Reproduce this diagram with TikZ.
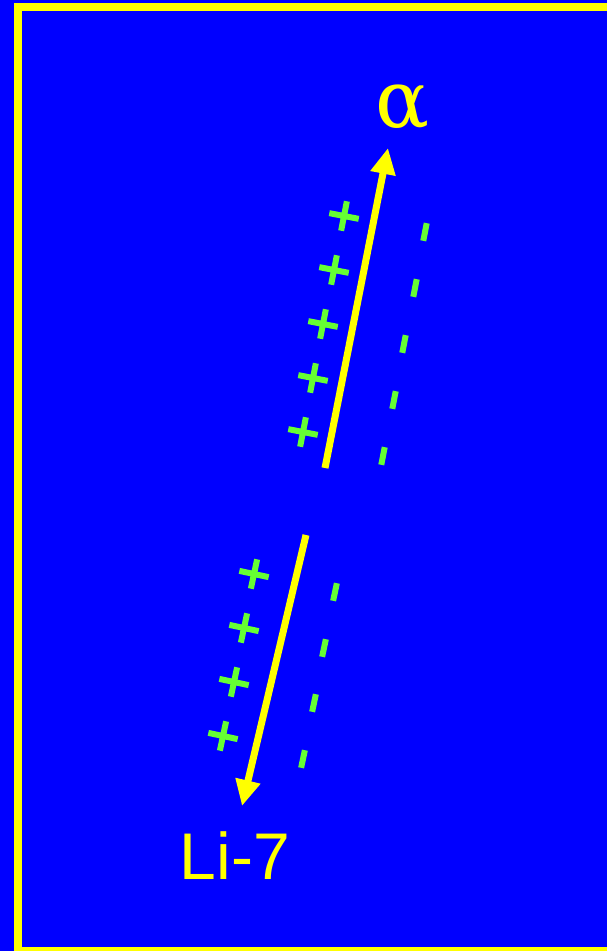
\documentclass[tikz,border=0pt]{standalone}
\usepackage{fontspec}
\usetikzlibrary{arrows.meta}
\newfontfamily\arialfont{Liberation Sans}
\newfontfamily\greekfont{DejaVu Serif}
\definecolor{bgblue}{RGB}{0,0,255}
\definecolor{ylw}{RGB}{255,255,0}
\definecolor{grn}{RGB}{102,255,51}
\tikzset{
  chargeline/.style={draw=grn,line width=6pt},
  plussign/.pic={\draw[chargeline] (-15,0)--(15,0) (0,-15)--(0,15);},
  minussign/.pic={\draw[chargeline] (0,-9)--(0,9);},
  trackarrow/.style={draw=ylw,line width=7pt,-{Triangle[length=26pt,width=24pt]}},
  label/.style={text=ylw,inner sep=0pt,anchor=base}
}
\begin{document}
\begin{tikzpicture}[x=1pt,y=-1pt]
\useasboundingbox (0,0) rectangle (607,951);
\clip (0,0) rectangle (607,951);
\fill[bgblue] (0,0) rectangle (607,951);
\draw[ylw,line width=8pt] (18,7) rectangle (610.5,950.5);
% upper track
\coordinate (a0) at (325,468);
\coordinate (a1) at (388,148);
\draw[trackarrow] (a0) -- (a1);
\node[label,font=\greekfont\fontsize{80}{80}\selectfont] (alpha) at (403,127) {α};
\foreach \x/\y in {344/216,334/270,323/324,313/378,303/432}
  \pic[rotate=-11] at (\x,\y) {plussign};
\foreach \x/\y in {425/232,415/288,404/344,394/400,383/456}
  \pic[rotate=-11] at (\x,\y) {minussign};
% lower track
\coordinate (b0) at (306,535);
\coordinate (b1) at (242,806);
\draw[trackarrow] (b0) -- (b1);
\node[label,font=\arialfont\fontsize{66}{66}\selectfont] (li) at (235,879) {Li-7};
\foreach \x/\y in {254/574,244/628,234/682,223/736}
  \pic[rotate=-12] at (\x,\y) {plussign};
\foreach \x/\y in {335/592,324/648,314/703,303/759}
  \pic[rotate=-12] at (\x,\y) {minussign};
\end{tikzpicture}
\end{document}
